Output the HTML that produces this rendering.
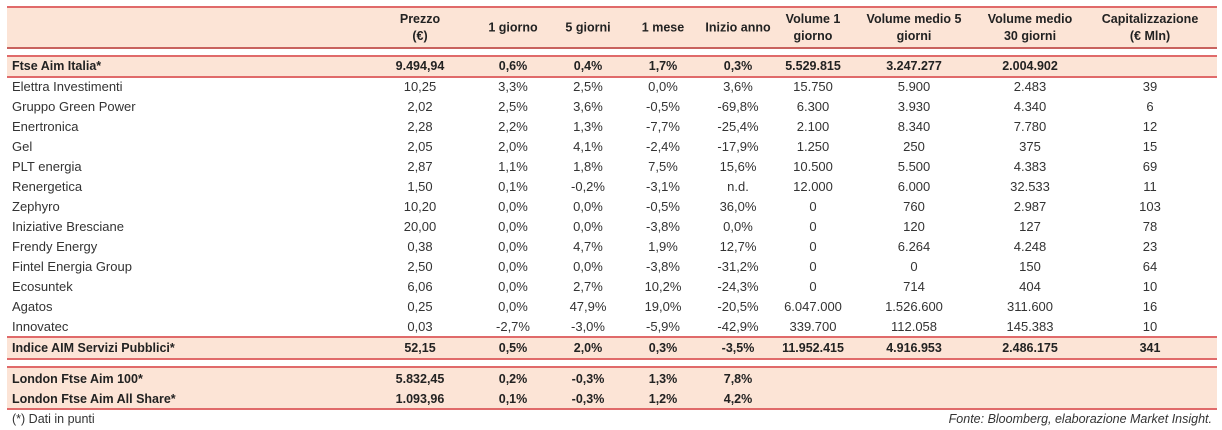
<!DOCTYPE html>
<html><head><meta charset="utf-8">
<style>
body{margin:0;width:1222px;height:430px;background:#fff;position:relative;overflow:hidden;font-family:"Liberation Sans",sans-serif;color:#333;}
.band{position:absolute;left:7px;width:1210px;background:#fce4d6;}
.ln{position:absolute;left:7px;width:1210px;height:2px;background:#e06a6a;}
.t{position:absolute;white-space:nowrap;font-size:13px;line-height:16px;transform:translate(-50%,-50%);}
.n{position:absolute;white-space:nowrap;font-size:13px;line-height:16px;left:12px;transform:translateY(-50%);}
.b{font-weight:bold;color:#222;font-size:12.5px;}
.h{font-weight:bold;color:#222;font-size:12.5px;text-align:center;line-height:17px;}
</style></head>
<body>
<div class="band" style="top:7px;height:41px"></div>
<div class="ln" style="top:6px"></div>
<div class="ln" style="top:47px;background:#c8625e"></div>
<div class="band" style="top:56px;height:20px"></div>
<div class="ln" style="top:55px"></div>
<div class="ln" style="top:76px"></div>
<div class="band" style="top:337px;height:22px"></div>
<div class="ln" style="top:336px"></div>
<div class="ln" style="top:358px"></div>
<div class="band" style="top:367px;height:42px"></div>
<div class="ln" style="top:366px"></div>
<div class="ln" style="top:408px"></div>
<div class="n" style="top:419px;font-size:12.5px">(*) Dati in punti</div>
<div class="n" style="top:419px;left:auto;right:10px;font-style:italic;font-size:12.5px">Fonte: Bloomberg, elaborazione Market Insight.</div>
<div id="tbl"></div>
<script>
const headers=[["Prezzo","(€)"],["1 giorno"],["5 giorni"],["1 mese"],["Inizio anno"],["Volume 1","giorno"],["Volume medio 5","giorni"],["Volume medio","30 giorni"],["Capitalizzazione","(€ Mln)"]];
const names=["Ftse Aim Italia*","Elettra Investimenti","Gruppo Green Power","Enertronica","Gel","PLT energia","Renergetica","Zephyro","Iniziative Bresciane","Frendy Energy","Fintel Energia Group","Ecosuntek","Agatos","Innovatec","Indice AIM Servizi Pubblici*","London Ftse Aim 100*","London Ftse Aim All Share*"];
const prezzo=["9.494,94","10,25","2,02","2,28","2,05","2,87","1,50","10,20","20,00","0,38","2,50","6,06","0,25","0,03","52,15","5.832,45","1.093,96"];
const g1=["0,6%","3,3%","2,5%","2,2%","2,0%","1,1%","0,1%","0,0%","0,0%","0,0%","0,0%","0,0%","0,0%","-2,7%","0,5%","0,2%","0,1%"];
const g5=["0,4%","2,5%","3,6%","1,3%","4,1%","1,8%","-0,2%","0,0%","0,0%","4,7%","0,0%","2,7%","47,9%","-3,0%","2,0%","-0,3%","-0,3%"];
const m1=["1,7%","0,0%","-0,5%","-7,7%","-2,4%","7,5%","-3,1%","-0,5%","-3,8%","1,9%","-3,8%","10,2%","19,0%","-5,9%","0,3%","1,3%","1,2%"];
const ytd=["0,3%","3,6%","-69,8%","-25,4%","-17,9%","15,6%","n.d.","36,0%","0,0%","12,7%","-31,2%","-24,3%","-20,5%","-42,9%","-3,5%","7,8%","4,2%"];
const vol1=["5.529.815","15.750","6.300","2.100","1.250","10.500","12.000","0","0","0","0","0","6.047.000","339.700","11.952.415","",""];
const vol5=["3.247.277","5.900","3.930","8.340","250","5.500","6.000","760","120","6.264","0","714","1.526.600","112.058","4.916.953","",""];
const vol30=["2.004.902","2.483","4.340","7.780","375","4.383","32.533","2.987","127","4.248","150","404","311.600","145.383","2.486.175","",""];
const cap=["","39","6","12","15","69","11","103","78","23","64","10","16","10","341","",""];
const cols=[prezzo,g1,g5,m1,ytd,vol1,vol5,vol30,cap];
const colX=[420,513,588,663,738,813,914,1030,1150];
const rowY=[66,87,107,127,147,167,187,207,227,247,267,287,307,327,348,379,399];
const boldRows=[0,14,15,16];
const root=document.getElementById('tbl');
headers.forEach((h,i)=>{
  const d=document.createElement('div');
  d.className='t h';
  
  
  d.style.left=colX[i]+'px';d.style.top='28px';
  d.innerHTML=h.join('<br>');
  root.appendChild(d);
});
names.forEach((nm,r)=>{
  const bold=boldRows.includes(r);
  const d=document.createElement('div');
  d.className='n'+(bold?' b':'');
  
  
  d.style.top=rowY[r]+'px';
  d.textContent=nm;
  root.appendChild(d);
  cols.forEach((c,i)=>{
    if(!c[r])return;
    const e=document.createElement('div');
    e.className='t'+(bold?' b':'');
    
    
    e.style.left=colX[i]+'px';e.style.top=rowY[r]+'px';
    e.textContent=c[r];
    root.appendChild(e);
  });
});
</script>
</body></html>
